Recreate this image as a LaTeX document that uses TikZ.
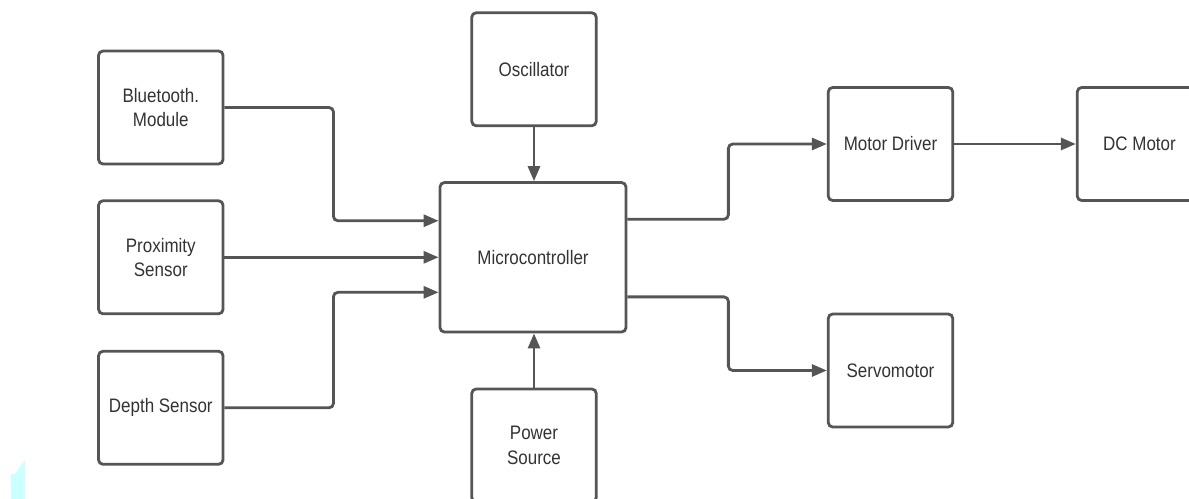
\documentclass[tikz,border=0pt]{standalone}
\usepackage{fontspec}
\setmainfont{Liberation Sans}[FakeStretch=0.87]
\usetikzlibrary{arrows.meta,calc}
\definecolor{edge}{HTML}{555555}
\definecolor{ink}{HTML}{333333}
\definecolor{glare}{HTML}{CCFFFF}
\tikzset{
  blk/.style={draw=edge,line width=1.6pt,rounded corners=2.5pt,fill=white,
    minimum width=2.49cm,minimum height=2.26cm,align=center,text=ink,
    font=\fontsize{11.1}{13.9}\selectfont},
  arr/.style={draw=edge,line width=1.6pt,rounded corners=2.5pt,
    -{Triangle[length=8.5pt,width=6.8pt]}}
}
\begin{document}
\begin{tikzpicture}[x=0.02cm,y=-0.02cm]
\clip (0,0) rectangle (1189,499);
\fill[glare] (11,474) -- (15,474) -- (25,460) -- (25,499) -- (11,499) -- cycle;
\node[blk] (bt) at (160.8,107.5) {Bluetooth.\\Module};
\node[blk] (prox) at (160.8,257.3) {Proximity\\Sensor};
\node[blk] (dp) at (160.8,407.8) {Depth Sensor};
\node[blk] (osc) at (534,69.3) {Oscillator};
\node[blk,minimum width=3.72cm,minimum height=2.99cm] (mc) at (533,257.3) {Microcontroller};
\node[blk] (pwr) at (534,445.5) {Power\\Source};
\node[blk] (md) at (890.5,144) {Motor Driver};
\node[blk] (dc) at (1139.5,144) {DC Motor};
\node[blk] (sv) at (890.5,370.5) {Servomotor};
\draw[arr] (bt.east) -- ++(109,0) |- ($(mc.north west)!0.26!(mc.south west)$);
\draw[arr] (prox.east) -- (mc.west);
\draw[arr] (dp.east) -- ++(109,0) |- ($(mc.north west)!0.73!(mc.south west)$);
\draw[arr] (osc.south) -- (osc.south |- mc.north);
\draw[arr] (pwr.north) -- (pwr.north |- mc.south);
\draw[arr] ($(mc.north east)!0.25!(mc.south east)$) -- ++(101,0) |- (md.west);
\draw[arr] ($(mc.north east)!0.76!(mc.south east)$) -- ++(101,0) |- (sv.west);
\draw[arr] (md.east) -- (dc.west);
\end{tikzpicture}
\end{document}
